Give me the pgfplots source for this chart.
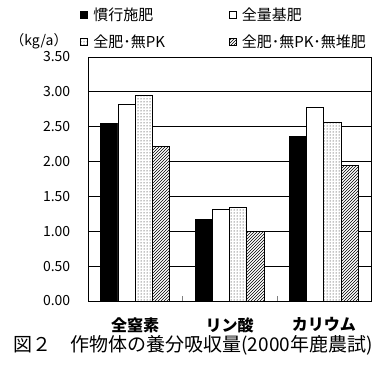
\documentclass[border=0pt]{standalone}
\usepackage{fontspec}
\setmainfont{Noto Sans CJK JP}
\usepackage{pgfplots}
\pgfplotsset{compat=1.18}
\usetikzlibrary{patterns}
\begin{document}
\begin{tikzpicture}[x=1pt,y=1pt]
\path[use as bounding box] (0,0) rectangle (386,387);
\begin{axis}[
 at={(88pt,86pt)}, anchor=south west,
 scale only axis, width=283pt, height=244pt,
 xmin=-0.5, xmax=2.5, ymin=0, ymax=3.5,
 ybar=0pt, bar width=17.25pt,
 line width=0.8pt,
 xtick={0,1,2}, xticklabels={全窒素,リン酸,カリウム},
 ytick={0,0.5,...,3.5},
 major tick length=0pt,
 tick pos=left,
 extra x ticks={0.5,1.5}, extra x tick labels={},
 extra x tick style={major tick length=5pt, tick align=inside},
 ymajorgrids, grid style={black, line width=0.8pt},
 /pgf/number format/assume math mode=true,
 yticklabel style={/pgf/number format/.cd, fixed, fixed zerofill, precision=2, /tikz/.cd, font=\fontsize{14}{16}\selectfont, xshift=-14pt},
 xticklabel style={font=\bfseries\fontsize{16}{18}\selectfont, yshift=-13pt},
 legend columns=2,
 legend style={draw=none, fill=none, at={(-0.028,1.213)}, anchor=north west,
   font=\fontsize{15}{17}\selectfont, row sep=9pt, inner sep=0pt,
   /tikz/every odd column/.append style={column sep=3pt},
   /tikz/every even column/.append style={column sep=62pt}},
 legend cell align=left,
 legend image code/.code={\draw[#1, line width=0.8pt] (0pt,-3.5pt) rectangle (7pt,3.5pt);},
]
\addplot[fill=black, draw=black] coordinates {(0,2.55) (1,1.17) (2,2.36)};
\addplot[fill=white, draw=black] coordinates {(0,2.82) (1,1.31) (2,2.77)};
\addplot[fill=white, draw=black, postaction={pattern=dots}] coordinates {(0,2.95) (1,1.34) (2,2.56)};
\addplot[fill=white, draw=black, postaction={pattern=north east lines}] coordinates {(0,2.22) (1,1.00) (2,1.94)};
\legend{慣行施肥,全量基肥,全肥･無PK,全肥･無PK･無堆肥}
\end{axis}
\node[font=\fontsize{14}{16}\selectfont] at (39,346) {（kg/a）};
\node[font=\fontsize{19}{21}\selectfont] at (193,42) {図２　作物体の養分吸収量(2000年鹿農試)};
\end{tikzpicture}
\end{document}
